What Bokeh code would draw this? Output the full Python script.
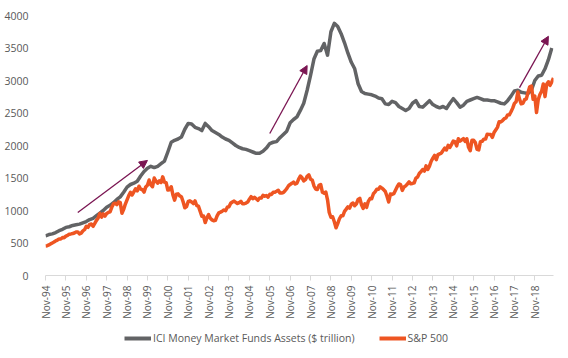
from bokeh.plotting import figure
from bokeh.layouts import column
from bokeh.models import Range1d, FixedTicker, Legend, LegendItem, Arrow, NormalHead
from bokeh.embed import file_html
from bokeh.resources import INLINE

# Tick labels (one per November, months counted from Nov-94)
tick_labels = ["Nov-%02d" % (y % 100) for y in range(1994, 2019)]
tick_months = [12 * i for i in range(len(tick_labels))]

# ICI Money Market Funds Assets, read every 2 months from Nov-94
ici_months = list(range(0, 300, 2))
ici_values = [
    610, 630, 640, 660, 690, 710, 740, 750, 770, 780, 790, 810,
    830, 860, 880, 920, 960, 1000, 1050, 1080, 1120, 1170, 1210, 1280,
    1360, 1400, 1420, 1450, 1530, 1600, 1650, 1680, 1660, 1680, 1720, 1760,
    1900, 2050, 2080, 2100, 2130, 2250, 2340, 2330, 2280, 2260, 2230, 2340,
    2290, 2230, 2200, 2170, 2130, 2100, 2080, 2040, 2000, 1970, 1950, 1940,
    1920, 1900, 1880, 1880, 1910, 1960, 2030, 2050, 2060, 2120, 2170, 2220,
    2350, 2400, 2440, 2540, 2650, 2850, 3080, 3330, 3450, 3460, 3570, 3390,
    3750, 3880, 3830, 3720, 3580, 3420, 3280, 3180, 2950, 2830, 2800, 2790,
    2780, 2760, 2730, 2720, 2640, 2630, 2680, 2660, 2600, 2570, 2540, 2570,
    2650, 2690, 2600, 2590, 2640, 2690, 2630, 2600, 2580, 2600, 2570, 2650,
    2720, 2660, 2590, 2620, 2680, 2700, 2720, 2740, 2720, 2700, 2700, 2690,
    2690, 2670, 2650, 2640, 2690, 2760, 2840, 2850, 2820, 2810, 2800, 2850,
    3000, 3070, 3080, 3180, 3320, 3500,
]

# S&P 500, monthly from Nov-94
spx_values = [
    454, 459,
    470, 487, 501, 515, 533, 545, 562, 562, 584, 582, 605, 616,
    636, 640, 646, 654, 669, 671, 640, 652, 687, 705, 757, 741,
    786, 791, 757, 801, 848, 885, 954, 899, 947, 915, 955, 970,
    980, 1049, 1101, 1112, 1091, 1134, 1121, 957, 1017, 1099, 1164, 1229,
    1280, 1238, 1286, 1335, 1302, 1373, 1329, 1320, 1283, 1363, 1389, 1469,
    1394, 1366, 1499, 1452, 1421, 1455, 1431, 1518, 1437, 1429, 1315, 1320,
    1366, 1240, 1160, 1249, 1256, 1224, 1211, 1134, 1041, 1060, 1139, 1148,
    1130, 1107, 1147, 1077, 1067, 990, 912, 916, 815, 886, 936, 880,
    856, 841, 848, 917, 964, 975, 990, 1008, 996, 1051, 1058, 1112,
    1131, 1145, 1126, 1107, 1121, 1141, 1102, 1104, 1115, 1130, 1174, 1212,
    1181, 1204, 1181, 1157, 1192, 1191, 1234, 1220, 1229, 1207, 1249, 1248,
    1280, 1281, 1295, 1311, 1270, 1270, 1277, 1304, 1336, 1378, 1401, 1418,
    1438, 1407, 1421, 1482, 1531, 1503, 1455, 1474, 1527, 1549, 1481, 1468,
    1379, 1331, 1323, 1386, 1400, 1280, 1267, 1283, 1165, 969, 896, 903,
    826, 735, 798, 873, 919, 919, 987, 1021, 1057, 1036, 1096, 1115,
    1074, 1104, 1169, 1187, 1089, 1031, 1102, 1049, 1141, 1183, 1181, 1258,
    1286, 1327, 1326, 1364, 1345, 1321, 1292, 1219, 1131, 1253, 1247, 1258,
    1312, 1366, 1408, 1398, 1310, 1362, 1379, 1407, 1441, 1412, 1416, 1426,
    1498, 1515, 1569, 1598, 1631, 1606, 1686, 1633, 1682, 1757, 1806, 1848,
    1783, 1859, 1872, 1884, 1924, 1960, 1931, 2003, 1972, 2018, 2068, 2059,
    1995, 2105, 2068, 2086, 2107, 2063, 2104, 1972, 1920, 2079, 2080, 2044,
    1940, 1932, 2060, 2065, 2097, 2099, 2174, 2171, 2168, 2126, 2199, 2239,
    2279, 2364, 2363, 2384, 2412, 2423, 2470, 2472, 2519, 2575, 2648, 2674,
    2824, 2714, 2641, 2648, 2705, 2718, 2816, 2902, 2914, 2712, 2760, 2507,
    2704, 2784, 2834, 2946, 2752, 2942, 2980, 2926, 2977, 3038,
]
spx_months = list(range(len(spx_values)))

series_names = ["ICI Money Market Funds Assets ($ trillion)", "S&P 500"]
y_ticks = [0, 500, 1000, 1500, 2000, 2500, 3000, 3500, 4000]

# Trend arrows (start month, start value, end month, end value)
arrow_x0 = [19, 132, 279]
arrow_y0 = [970, 2185, 2890]
arrow_x1 = [60, 154, 296]
arrow_y1 = [1770, 3230, 3680]

GRAY = "#626365"
ORANGE = "#EE5522"
ARROW = "#7A1552"
TEXT = "#595959"
FONT = "Open Sans"

p = figure(width=560, height=322, output_backend="svg", toolbar_location=None,
           x_range=Range1d(0, 299), y_range=Range1d(0, 4000),
           min_border_left=45, min_border_right=7, min_border_top=15, min_border_bottom=47)
p.outline_line_color = None
p.xgrid.visible = False
p.ygrid.visible = False

r1 = p.line(ici_months, ici_values, line_color=GRAY, line_width=3.5, line_join="round")
r2 = p.line(spx_months, spx_values, line_color=ORANGE, line_width=3.5, line_join="round")

for i in range(len(arrow_x0)):
    p.add_layout(Arrow(x_start=arrow_x0[i], y_start=arrow_y0[i], x_end=arrow_x1[i], y_end=arrow_y1[i],
                       line_color=ARROW, line_width=1.3,
                       end=NormalHead(size=8, fill_color=ARROW, line_color=ARROW, line_width=1)))

xa = p.xaxis[0]
xa.ticker = FixedTicker(ticks=tick_months)
xa.major_label_overrides = {m: l for m, l in zip(tick_months, tick_labels)}
xa.major_label_orientation = 1.5708
xa.axis_line_color = "#D9D9D9"
xa.major_tick_line_color = "#D9D9D9"
xa.major_tick_out = 5
xa.major_tick_in = 0
xa.minor_tick_line_color = None
xa.major_label_text_font = FONT
xa.major_label_text_font_size = "10px"
xa.major_label_text_color = TEXT
xa.major_label_standoff = 5

ya = p.yaxis[0]
ya.ticker = FixedTicker(ticks=y_ticks)
ya.axis_line_color = None
ya.major_tick_line_color = None
ya.minor_tick_line_color = None
ya.major_label_text_font = FONT
ya.major_label_text_font_size = "10.5px"
ya.major_label_text_color = TEXT
ya.major_label_standoff = 11

# Legend lives in a slim strip below the chart; its lines reuse the series
# data but fall outside this strip's ranges, so only the legend swatches show.
lf = figure(width=560, height=36, output_backend="svg", toolbar_location=None,
            x_range=Range1d(0, 1), y_range=Range1d(0, 1),
            x_axis_location=None, y_axis_location=None,
            min_border_left=0, min_border_right=0, min_border_top=0, min_border_bottom=0)
lf.outline_line_color = None
lf.xgrid.visible = False
lf.ygrid.visible = False
k1 = lf.line(ici_months, ici_values, line_color=GRAY, line_width=4)
k2 = lf.line(spx_months, spx_values, line_color=ORANGE, line_width=4)

legend = Legend(items=[LegendItem(label=series_names[0], renderers=[k1]),
                       LegendItem(label=series_names[1], renderers=[k2])],
                orientation="horizontal", location=(79, 13),
                border_line_color=None, background_fill_alpha=0,
                label_text_font=FONT, label_text_font_size="10.5px", label_text_color=TEXT,
                glyph_width=27, glyph_height=12, label_standoff=2, spacing=24,
                padding=0, margin=0)
lf.add_layout(legend, "center")

open("out.html", "w").write(file_html(column(p, lf, spacing=0), INLINE))
